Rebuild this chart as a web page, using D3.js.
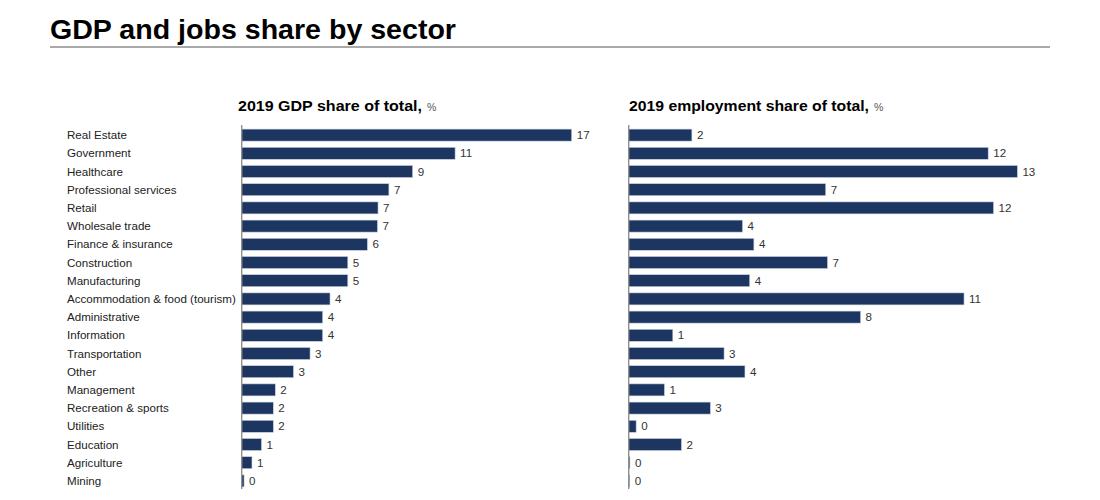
<!DOCTYPE html>
<html>
<head>
<meta charset="utf-8">
<script src="https://cdn.jsdelivr.net/npm/d3@7"></script>
<style>
body { margin: 0; background: #fff; }
svg { font-family: "Liberation Sans", Arial, sans-serif; }
</style>
</head>
<body>
<svg width="1100" height="500"></svg>
<script>
var sectors = ["Real Estate", "Government", "Healthcare", "Professional services", "Retail",
  "Wholesale trade", "Finance & insurance", "Construction", "Manufacturing",
  "Accommodation & food (tourism)", "Administrative", "Information", "Transportation",
  "Other", "Management", "Recreation & sports", "Utilities", "Education", "Agriculture", "Mining"];
var gdpShare = [16.7, 10.8, 8.65, 7.45, 6.9, 6.87, 6.36, 5.37, 5.37, 4.47, 4.1, 4.1, 3.46,
  2.62, 1.7, 1.6, 1.6, 1.0, 0.52, 0.12];
var jobShare = [2.12, 12.06, 13.04, 6.61, 12.24, 3.82, 4.2, 6.67, 4.06, 11.25, 7.78, 1.48, 3.2,
  3.9, 1.2, 2.74, 0.25, 1.77, 0.04, 0.03];
var panelTitles = ["2019 GDP share of total,", "2019 employment share of total,"];

var svg = d3.select("svg");
var barColor = "#1c3661";
var fmt = d3.format(".0f");

// title + rule (reference text runs a bit wide, so stretch it to fit)
svg.append("text")
  .attr("x", 50).attr("y", 39)
  .attr("font-size", 26.8).attr("font-weight", "bold").attr("fill", "#000")
  .attr("textLength", 406).attr("lengthAdjust", "spacingAndGlyphs")
  .text("GDP and jobs share by sector");
svg.append("line")
  .attr("x1", 50).attr("x2", 1050).attr("y1", 47).attr("y2", 47)
  .attr("stroke", "#8c8c8c").attr("stroke-width", 1.3);

var y = d3.scaleBand().domain(sectors).range([126, 490]).paddingInner(0.34).paddingOuter(0.17);

// sector labels
svg.append("g").selectAll("text").data(sectors).enter()
  .append("text")
  .attr("x", 67)
  .attr("y", function(d){ return y(d) + y.bandwidth()/2; })
  .attr("dy", "0.35em")
  .attr("font-size", 11.6).attr("fill", "#222")
  .text(function(d){ return d; });

var drawPanel = function(vals, x0, width, title, tx, tw){
  var x = d3.scaleLinear().domain([0, d3.max(vals)]).range([x0, x0 + width]);
  var g = svg.append("g");

  g.append("text").attr("x", tx).attr("y", 111)
    .attr("font-size", 14.6).attr("font-weight", "bold").attr("fill", "#000")
    .attr("textLength", tw).attr("lengthAdjust", "spacingAndGlyphs")
    .text(title);
  g.append("text").attr("x", tx + tw + 5).attr("y", 111)
    .attr("font-size", 10.5).attr("fill", "#555").text("%");

  g.selectAll("rect").data(vals).enter()
    .append("rect")
    .attr("x", x(0))
    .attr("y", function(d, i){ return y(sectors[i]); })
    .attr("width", function(d){ return Math.max(x(d) - x(0), 1); })
    .attr("height", y.bandwidth())
    .attr("fill", barColor)
    .attr("stroke", "#c9d1de").attr("stroke-width", 0.6);

  g.selectAll(".val").data(vals).enter()
    .append("text")
    .attr("class", "val")
    .attr("x", function(d){ return Math.max(x(d), x(0) + 1) + 5; })
    .attr("y", function(d, i){ return y(sectors[i]) + y.bandwidth()/2; })
    .attr("dy", "0.35em")
    .attr("font-size", 11.6).attr("fill", "#333")
    .text(function(d){ return fmt(d); });

  g.append("line")
    .attr("x1", x(0)).attr("x2", x(0)).attr("y1", 125).attr("y2", 489)
    .attr("stroke", "#8f8f8f").attr("stroke-width", 1.4);
}

drawPanel(gdpShare, 241.7, 330, panelTitles[0], 238, 184);
drawPanel(jobShare, 628.7, 388.7, panelTitles[1], 629, 240);
</script>
</body>
</html>
